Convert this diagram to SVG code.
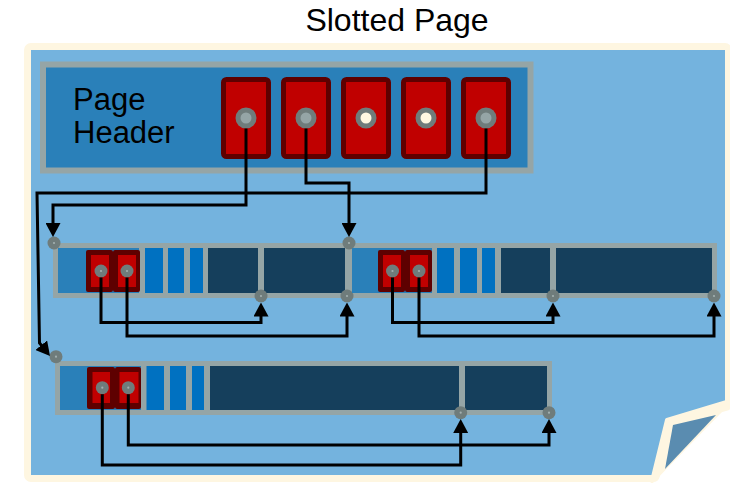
<svg xmlns="http://www.w3.org/2000/svg" width="730" height="485" viewBox="0 0 730 485">
  <style>
    .txt { font-family: "Liberation Sans", Arial, sans-serif; fill: #000; }
    .frame { fill: #95a5a6; }
    .hdr { fill: #2a80b9; }
    .slotO { fill: #5e0000; }
    .slotI { fill: #c00000; }
    .bar { fill: #0071c1; }
    .tup { fill: #153f5c; }
    .pin { fill: #6f7c7b; }
    .pinDot { fill: #a3b0b0; }
    .wire { fill: none; stroke: #000; stroke-width: 3; stroke-linejoin: miter; marker-end: url(#arrow); }
  </style>
  <defs>
    <marker id="arrow" markerUnits="userSpaceOnUse" viewBox="0 0 14 15" markerWidth="14" markerHeight="15" refX="10" refY="7.5" orient="auto">
      <path d="M0,0 L14,7.5 L0,15 z" fill="#000"/>
    </marker>
    <!-- small connection pin -->
    <g id="pinShape">
      <circle r="6.5" class="pin"/>
      <circle r="1.1" class="pinDot"/>
    </g>
  </defs>

  <rect width="730" height="485" fill="#fff"/>

  <!-- Title -->
  <text class="txt" x="397" y="31" font-size="32" text-anchor="middle">Slotted Page</text>

  <!-- Page sheet with folded corner -->
  <g id="sheet">
    <polygon points="31,50 725,50 725,404 667,420 653,475 31,475" fill="#fef6e1" stroke="#fef6e1" stroke-width="14" stroke-linejoin="round"/>
    <polygon points="31,50 725,50 725,404 667,420 653,475 31,475" fill="#74b3de"/>
    <polygon points="667,420 730,401 652,481" fill="#fef6e1" stroke="#fef6e1" stroke-width="4" stroke-linejoin="round"/>
    <polygon points="673,425 716,415 665,469" fill="#5a8cb0"/>
  </g>

  <!-- Page header with slot array -->
  <g id="page-header">
    <rect x="43" y="64.5" width="487.5" height="106" class="hdr" stroke="#95a5a6" stroke-width="6"/>
    <text class="txt" x="73" y="110" font-size="31">Page</text>
    <text class="txt" x="73" y="143" font-size="31">Header</text>
  </g>
  <g id="slot-1">
    <rect x="223.5" y="79.5" width="45" height="77" rx="3" class="slotI" stroke="#5e0000" stroke-width="5"/>
    <circle cx="246" cy="118" r="10.5" class="pin"/>
    <circle cx="246" cy="118" r="5.5" fill="#95a5a6"/>
  </g>
  <g id="slot-2">
    <rect x="283.5" y="79.5" width="45" height="77" rx="3" class="slotI" stroke="#5e0000" stroke-width="5"/>
    <circle cx="306" cy="118" r="10.5" class="pin"/>
    <circle cx="306" cy="118" r="5.5" fill="#95a5a6"/>
  </g>
  <g id="slot-3">
    <rect x="343.5" y="79.5" width="45" height="77" rx="3" class="slotI" stroke="#5e0000" stroke-width="5"/>
    <circle cx="366" cy="118" r="10.5" class="pin"/>
    <circle cx="366" cy="118" r="5.5" fill="#fff8e1"/>
  </g>
  <g id="slot-4">
    <rect x="403.5" y="79.5" width="45" height="77" rx="3" class="slotI" stroke="#5e0000" stroke-width="5"/>
    <circle cx="426" cy="118" r="10.5" class="pin"/>
    <circle cx="426" cy="118" r="5.5" fill="#fff8e1"/>
  </g>
  <g id="slot-5">
    <rect x="463.5" y="79.5" width="45" height="77" rx="3" class="slotI" stroke="#5e0000" stroke-width="5"/>
    <circle cx="486" cy="118" r="10.5" class="pin"/>
    <circle cx="486" cy="118" r="5.5" fill="#95a5a6"/>
  </g>

  <!-- Row 1: two records side by side -->
  <g id="row-1-frame">
    <rect x="53" y="243" width="664" height="55" class="frame"/>
  </g>
  <g id="record-a">
    <rect x="58" y="248" width="81" height="45" class="hdr"/>
    <rect x="86" y="250" width="27" height="42" rx="2" class="slotO"/>
    <rect x="91" y="255" width="18" height="32" class="slotI"/>
    <rect x="113" y="250" width="27" height="42" rx="2" class="slotO"/>
    <rect x="118" y="255" width="18" height="32" class="slotI"/>
    <rect x="145" y="248" width="18" height="45" class="bar"/>
    <rect x="168" y="248" width="16" height="45" class="bar"/>
    <rect x="190" y="248" width="13" height="45" class="bar"/>
    <rect x="208" y="248" width="50" height="45" class="tup"/>
    <rect x="264" y="248" width="81" height="45" class="tup"/>
    <use href="#pinShape" x="101" y="271"/>
    <use href="#pinShape" x="127" y="271"/>
    <use href="#pinShape" x="54" y="243"/>
    <use href="#pinShape" x="261" y="296"/>
    <use href="#pinShape" x="347" y="296"/>
  </g>
  <g id="record-b">
    <rect x="352" y="248" width="80" height="45" class="hdr"/>
    <rect x="378" y="250" width="27" height="42" rx="2" class="slotO"/>
    <rect x="383" y="255" width="18" height="32" class="slotI"/>
    <rect x="405" y="250" width="27" height="42" rx="2" class="slotO"/>
    <rect x="410" y="255" width="18" height="32" class="slotI"/>
    <rect x="437" y="248" width="17" height="45" class="bar"/>
    <rect x="460" y="248" width="17" height="45" class="bar"/>
    <rect x="482" y="248" width="13" height="45" class="bar"/>
    <rect x="501" y="248" width="49" height="45" class="tup"/>
    <rect x="556" y="248" width="156" height="45" class="tup"/>
    <use href="#pinShape" x="392.5" y="271"/>
    <use href="#pinShape" x="419" y="271"/>
    <use href="#pinShape" x="349" y="243"/>
    <use href="#pinShape" x="553" y="296"/>
    <use href="#pinShape" x="714" y="296"/>
  </g>

  <!-- Row 2 -->
  <g id="record-c">
    <rect x="55" y="361" width="497" height="54" class="frame"/>
    <rect x="60" y="366" width="81" height="44" class="hdr"/>
    <rect x="87" y="367" width="28" height="42" rx="2" class="slotO"/>
    <rect x="92.5" y="372" width="17.5" height="31" class="slotI"/>
    <rect x="115" y="367" width="26" height="42" rx="2" class="slotO"/>
    <rect x="119.5" y="372" width="19" height="31" class="slotI"/>
    <rect x="146.5" y="366" width="17.5" height="44" class="bar"/>
    <rect x="170" y="366" width="16" height="44" class="bar"/>
    <rect x="192" y="366" width="12" height="44" class="bar"/>
    <rect x="210" y="366" width="249" height="44" class="tup"/>
    <rect x="465" y="366" width="82" height="44" class="tup"/>
    <use href="#pinShape" x="102.3" y="387.7"/>
    <use href="#pinShape" x="128.3" y="387.7"/>
    <use href="#pinShape" x="56" y="356.7"/>
    <use href="#pinShape" x="460.7" y="412.7"/>
    <use href="#pinShape" x="549" y="412.7"/>
  </g>

  <!-- Connectors -->
  <g id="connectors">
    <path class="wire" d="M246,128.5 V205 H53 V233"/>
    <path class="wire" d="M306,128.5 V183 H349 V233"/>
    <path class="wire" d="M486,128.5 V193 H37 L39.5,343 L47.5,353"/>

    <path class="wire" d="M101,277.5 V322.5 H261 V306.5"/>
    <path class="wire" d="M127,277.5 V336 H347 V306.5"/>
    <path class="wire" d="M392.5,277.5 V322.5 H553 V306.5"/>
    <path class="wire" d="M419,277.5 V336 H714 V306.5"/>

    <path class="wire" d="M128.3,394.2 V445 H549 V423"/>
    <path class="wire" d="M102.3,394.2 V465 H460.7 V423"/>
  </g>
</svg>
